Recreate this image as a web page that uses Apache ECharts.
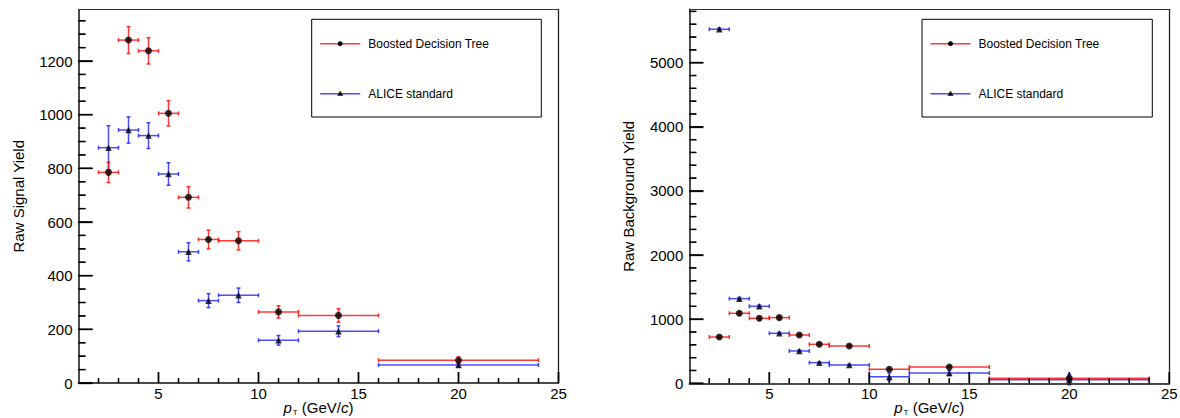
<!DOCTYPE html>
<html>
<head>
<meta charset="utf-8">
<script src="https://cdn.jsdelivr.net/npm/echarts@6/dist/echarts.min.js"></script>
<style>
html,body{margin:0;padding:0;background:#fff;}
#chart{width:1180px;height:418px;}
</style>
</head>
<body>
<div id="chart"></div>
<script>
// ---- data ----
const binLo     = [2, 3, 4, 5, 6, 7, 8, 10, 12, 16];
const binHi     = [3, 4, 5, 6, 7, 8, 10, 12, 16, 24];
const binCenter = [2.5, 3.5, 4.5, 5.5, 6.5, 7.5, 9, 11, 14, 20];

const sigBDT    = [785, 1278, 1238, 1005, 692, 535, 530, 265, 252, 85];
const sigBDTErr = [38, 50, 49, 47, 40, 35, 34, 23, 25, 13];
const sigStd    = [877, 943, 922, 779, 489, 307, 327, 159, 193, 67];
const sigStdErr = [82, 49, 48, 42, 34, 26, 27, 18, 20, 8];

const bkgBDT    = [722, 1092, 1014, 1024, 753, 608, 582, 218, 254, 78];
const bkgBDTErr = [20, 25, 25, 25, 20, 18, 18, 15, 15, 20];
const bkgStd    = [5522, 1320, 1201, 780, 504, 322, 285, 103, 161, 56];
const bkgStdErr = [20, 20, 20, 15, 15, 12, 12, 60, 40, 80];

// ticks
const xTickPositions = ['1','2','3','4','5','6','7','8','9','10','11','12','13','14','15','16','17','18','19','20','21','22','23','24','25'];
const xTickLabels = ['5', '10', '15', '20', '25'];
const xMajorTicks = [5, 10, 15, 20, 25];
const xMinorTicks = [2, 3, 4, 6, 7, 8, 9, 11, 12, 13, 14, 16, 17, 18, 19, 21, 22, 23, 24];
const ySigMajorTicks = [0, 200, 400, 600, 800, 1000, 1200];
const ySigMinorTicks = [50, 100, 150, 250, 300, 350, 450, 500, 550, 650, 700, 750, 850, 900, 950, 1050, 1100, 1150, 1250, 1300, 1350];
const yBkgMajorTicks = [0, 1000, 2000, 3000, 4000, 5000];
const yBkgMinorTicks = [200, 400, 600, 800, 1200, 1400, 1600, 1800, 2200, 2400, 2600, 2800, 3200, 3400, 3600, 3800, 4200, 4400, 4600, 4800, 5200, 5400, 5600, 5800];
const yMaxes = [1392, 5833];
const yMajorStep = [200, 1000];

const seriesNames = ['Boosted Decision Tree', 'ALICE standard'];
const yTitles = ['Raw Signal Yield', 'Raw Background Yield'];

// ---- styles ----
const FONT = '"Liberation Sans", Arial, Helvetica, sans-serif';
const RED = 'rgba(255,0,0,0.78)';
const BLUE = 'rgba(0,0,255,0.7)';
const AX = '#000';
const X_MAJ = 11, X_MIN = 5, Y_MAJ = 14, Y_MIN = 7;

function errData(vals, errs) {
  return vals.map((v, i) => [binLo[i], binHi[i], binCenter[i], v, errs[i]]);
}
function ptData(vals) {
  return vals.map((v, i) => [binCenter[i], v]);
}
function renderErr(color) {
  return function (params, api) {
    const lo = api.value(0), hi = api.value(1), xc = api.value(2), y = api.value(3), e = api.value(4);
    const pL = api.coord([lo, y]), pR = api.coord([hi, y]);
    const pT = api.coord([xc, y + e]), pB = api.coord([xc, y - e]);
    const st = {stroke: color, lineWidth: 1.5};
    const c = 2;
    const lines = [
      [pL[0], pL[1], pR[0], pR[1]],
      [pT[0], pT[1], pB[0], pB[1]],
      [pL[0], pL[1] - c, pL[0], pL[1] + c],
      [pR[0], pR[1] - c, pR[0], pR[1] + c],
      [pT[0] - c, pT[1], pT[0] + c, pT[1]],
      [pB[0] - c, pB[1], pB[0] + c, pB[1]]
    ];
    return {
      type: 'group',
      children: lines.map(l => ({type: 'line', shape: {x1: l[0], y1: l[1], x2: l[2], y2: l[3]}, style: st}))
    };
  };
}
// inward-pointing ticks drawn as one custom item per panel, positioned through the axis scales
function tickSeries(g, xMaj, xMin, yMaj, yMin) {
  return {
    type: 'custom', xAxisIndex: g * 3, yAxisIndex: g * 3, silent: true, z: 7, clip: false,
    data: [[1, 0]],
    encode: {x: 0, y: 1},
    renderItem: function (params, api) {
      const kids = [];
      const add = (a, b, c, d) => kids.push({type: 'line', shape: {x1: a, y1: b, x2: c, y2: d},
        style: {stroke: '#000', lineWidth: 1.3, opacity: 1}});
      xMin.forEach(v => { const p = api.coord([v, 0]); add(p[0], p[1], p[0], p[1] - X_MIN); });
      xMaj.forEach(v => { const p = api.coord([v, 0]); add(p[0], p[1], p[0], p[1] - X_MAJ); });
      yMin.forEach(v => { const p = api.coord([1, v]); add(p[0], p[1], p[0] + Y_MIN, p[1]); });
      yMaj.forEach(v => { const p = api.coord([1, v]); add(p[0], p[1], p[0] + Y_MAJ, p[1]); });
      return {type: 'group', children: kids};
    }
  };
}

const grids = [
  {left: 78.5, top: 9.5, width: 480, height: 373.5},
  {left: 689.3, top: 9.3, width: 480, height: 374}
];

const option = {
  animation: false,
  backgroundColor: '#fff',
  grid: grids.map(g => Object.assign({show: false, outerBoundsMode: 'none', containLabel: false}, g)),
  xAxis: [],
  yAxis: [],
  series: [],
  graphic: []
};

const isLabelled = (idx) => xTickLabels.indexOf(xTickPositions[idx]) >= 0;
const noSplit = {show: false};

for (let g = 0; g < 2; g++) {
  option.xAxis.push({
    type: 'value', gridIndex: g, min: 1, max: 25, position: 'bottom', z: 6,
    axisLine: {show: true, onZero: false, lineStyle: {color: '#111', width: 1.5}},
    axisTick: {show: false}, axisLabel: {show: false}, splitLine: noSplit,
    name: '{i|p}{s|T}{n| (GeV/}{i|c}{n|)}',
    nameLocation: 'middle', nameGap: 16,
    nameTextStyle: {
      fontFamily: FONT, fontSize: 15, color: '#000', lineHeight: 17,
      rich: {
        i: {fontFamily: FONT, fontSize: 15, fontStyle: 'italic', color: '#000', lineHeight: 17},
        n: {fontFamily: FONT, fontSize: 15, color: '#000', lineHeight: 17},
        s: {fontFamily: FONT, fontSize: 8, color: '#000', lineHeight: 7, verticalAlign: 'bottom', padding: [0, 0, 0, 1]}
      }
    }
  });
  option.xAxis.push({
    type: 'category', gridIndex: g, data: xTickPositions, boundaryGap: false, position: 'bottom', z: 6,
    axisLine: {show: false},
    axisTick: {show: true, inside: true, length: X_MAJ, interval: (idx) => isLabelled(idx), lineStyle: {color: AX, width: 1.3}},
    axisLabel: {show: true, interval: (idx) => isLabelled(idx), margin: 4, lineHeight: 12,
      fontSize: 15, color: '#000', fontFamily: FONT},
    splitLine: noSplit
  });
  option.xAxis.push({
    type: 'value', gridIndex: g, min: 1, max: 25, position: 'top', z: 6,
    axisLine: {show: true, onZero: false, lineStyle: {color: '#333', width: 1}},
    axisTick: {show: false}, axisLabel: {show: false}, splitLine: noSplit
  });
  option.yAxis.push({
    type: 'value', gridIndex: g, min: 0, max: yMaxes[g], interval: yMajorStep[g], position: 'left', z: 6,
    axisLine: {show: true, onZero: false, lineStyle: {color: '#111', width: 1.5}},
    axisTick: {show: true, inside: true, length: Y_MAJ, lineStyle: {color: AX, width: 1.3}},
    axisLabel: {show: true, showMaxLabel: false, margin: 6, fontSize: 15, color: '#000', fontFamily: FONT,
      formatter: (v) => String(v)},
    splitLine: noSplit,
    name: yTitles[g], nameLocation: 'middle', nameRotate: 90, nameGap: 53,
    nameTextStyle: {fontFamily: FONT, fontSize: 15, color: '#000'}
  });
  option.yAxis.push({
    type: 'value', gridIndex: g, min: 0, max: yMaxes[g], position: 'right', z: 6,
    axisLine: {show: true, onZero: false, lineStyle: {color: '#222', width: 1.3}},
    axisTick: {show: false}, axisLabel: {show: false}, splitLine: noSplit
  });
  option.yAxis.push({
    type: 'value', gridIndex: g, min: 0, max: yMaxes[g], position: 'left', show: false
  });
}

const yMajorSets = [ySigMajorTicks, yBkgMajorTicks];
const yMinorSets = [ySigMinorTicks, yBkgMinorTicks];

const panels = [
  {bdt: sigBDT, bdtE: sigBDTErr, std: sigStd, stdE: sigStdErr},
  {bdt: bkgBDT, bdtE: bkgBDTErr, std: bkgStd, stdE: bkgStdErr}
];
panels.forEach((p, g) => {
  const xi = g * 3, yi = g * 3;
  option.series.push(tickSeries(g, xMajorTicks, xMinorTicks, yMajorSets[g], yMinorSets[g]));
  option.series.push({
    type: 'custom', name: seriesNames[1], xAxisIndex: xi, yAxisIndex: yi,
    renderItem: renderErr(BLUE), data: errData(p.std, p.stdE), encode: {x: 2, y: 3}, z: 2
  });
  option.series.push({
    type: 'custom', name: seriesNames[0], xAxisIndex: xi, yAxisIndex: yi,
    renderItem: renderErr(RED), data: errData(p.bdt, p.bdtE), encode: {x: 2, y: 3}, z: 3
  });
  option.series.push({
    type: 'scatter', name: seriesNames[1], xAxisIndex: xi, yAxisIndex: yi,
    symbol: 'triangle', symbolSize: 6.5, itemStyle: {color: '#000'}, data: ptData(p.std), z: 4
  });
  option.series.push({
    type: 'scatter', name: seriesNames[0], xAxisIndex: xi, yAxisIndex: yi,
    symbol: 'circle', symbolSize: 7, itemStyle: {color: '#000'}, data: ptData(p.bdt), z: 5
  });
});

// legends (one per panel)
const legendBoxes = [
  {x: 311.7, y: 19.3, w: 229.6, h: 97.7},
  {x: 922, y: 19.3, w: 230.3, h: 97.7}
];
legendBoxes.forEach(b => {
  const lx = b.x + 8.5, rowY = [b.y + 24.4, b.y + 74.4];
  option.graphic.push({type: 'rect', shape: {x: b.x, y: b.y, width: b.w, height: b.h},
    style: {fill: '#fff', stroke: '#000', lineWidth: 1}, z: 10});
  [RED, BLUE].forEach((col, k) => {
    option.graphic.push({type: 'line', shape: {x1: lx, y1: rowY[k], x2: lx + 40, y2: rowY[k]},
      style: {stroke: col, lineWidth: 1.5}, z: 11});
    if (k === 0) {
      option.graphic.push({type: 'circle', shape: {cx: lx + 20, cy: rowY[k], r: 2.5}, style: {fill: '#000'}, z: 12});
    } else {
      option.graphic.push({type: 'polygon', shape: {points: [[lx + 20, rowY[k] - 3], [lx + 23, rowY[k] + 2], [lx + 17, rowY[k] + 2]]}, style: {fill: '#000'}, z: 12});
    }
    option.graphic.push({type: 'text', x: lx + 48, y: rowY[k],
      style: {text: seriesNames[k], fontFamily: FONT, fontSize: 12, fill: '#000', verticalAlign: 'middle', align: 'left'}, z: 12});
  });
});

const chart = echarts.init(document.getElementById('chart'), null, {renderer: 'svg', width: 1180, height: 418});
chart.setOption(option);

// additional tick layer: pixel positions obtained from the chart's own axis scales
const tickGraphics = [];
for (let g = 0; g < 2; g++) {
  const finder = {xAxisIndex: g * 3, yAxisIndex: g * 3};
  const addT = (a, b, c, d) => tickGraphics.push({type: 'line', shape: {x1: a, y1: b, x2: c, y2: d},
    style: {stroke: '#000', lineWidth: 1.3}, z: 20, silent: true});
  xMinorTicks.forEach(v => { const p = chart.convertToPixel(finder, [v, 0]); if (p) addT(p[0], p[1], p[0], p[1] - X_MIN); });
  xMajorTicks.forEach(v => { const p = chart.convertToPixel(finder, [v, 0]); if (p) addT(p[0], p[1], p[0], p[1] - X_MAJ); });
  yMinorSets[g].forEach(v => { const p = chart.convertToPixel(finder, [1, v]); if (p) addT(p[0], p[1], p[0] + Y_MIN, p[1]); });
  yMajorSets[g].forEach(v => { const p = chart.convertToPixel(finder, [1, v]); if (p) addT(p[0], p[1], p[0] + Y_MAJ, p[1]); });
}
chart.setOption({graphic: option.graphic.concat(tickGraphics)});
</script>
</body>
</html>
